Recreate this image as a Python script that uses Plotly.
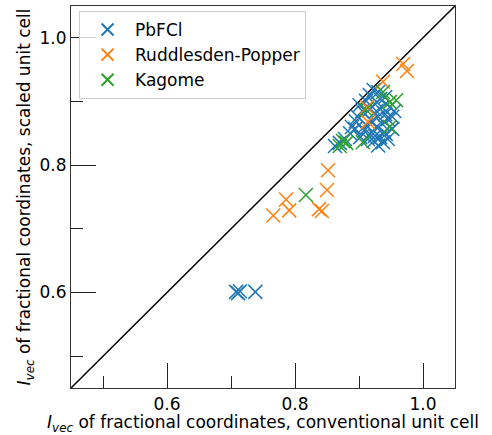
import plotly.graph_objects as go

# I_vec values: conventional unit cell (x) vs scaled unit cell (y)
pbfcl_x = [0.708, 0.711, 0.714, 0.738,
           0.8625, 0.870, 0.878, 0.886, 0.889, 0.895, 0.898, 0.905, 0.901, 0.911,
           0.917, 0.923, 0.930,
           0.917, 0.925, 0.933, 0.941, 0.948, 0.955, 0.941, 0.930, 0.920, 0.911,
           0.927, 0.936, 0.945, 0.952, 0.942, 0.933, 0.923, 0.930, 0.9375, 0.945,
           0.917, 0.908, 0.902, 0.894, 0.914, 0.927, 0.936, 0.952, 0.939, 0.925]
pbfcl_y = [0.601, 0.599, 0.602, 0.601,
           0.830, 0.835, 0.841, 0.850, 0.860, 0.869, 0.876, 0.885, 0.894, 0.901,
           0.910, 0.918, 0.915,
           0.888, 0.896, 0.904, 0.907, 0.891, 0.885, 0.880, 0.876, 0.869, 0.863,
           0.860, 0.865, 0.872, 0.857, 0.849, 0.844, 0.838, 0.831, 0.836, 0.841,
           0.849, 0.854, 0.844, 0.857, 0.841, 0.885, 0.891, 0.876, 0.852, 0.846]

rp_x = [0.969, 0.975, 0.9375, 0.9125, 0.914, 0.8516, 0.850, 0.786, 0.791, 0.766, 0.8375, 0.842]
rp_y = [0.959, 0.948, 0.931, 0.891, 0.868, 0.792, 0.761, 0.746, 0.729, 0.721, 0.731, 0.728]

kagome_x = [0.9375, 0.948, 0.958, 0.911, 0.948, 0.875, 0.870, 0.880, 0.906, 0.817]
kagome_y = [0.915, 0.899, 0.902, 0.887, 0.860, 0.838, 0.830, 0.835, 0.836, 0.753]

axis_range = [0.45, 1.05]
major_ticks = [0.6, 0.8, 1.0]
major_labels = ["0.6", "0.8", "1.0"]
minor_ticks = [0.5, 0.7, 0.9]

series = [
    ("PbFCl", pbfcl_x, pbfcl_y, "#1f77b4"),
    ("Ruddlesden-Popper", rp_x, rp_y, "#ff7f0e"),
    ("Kagome", kagome_x, kagome_y, "#2ca02c"),
]

fig = go.Figure()

# y = x reference line across the full axes
fig.add_trace(go.Scatter(x=axis_range, y=axis_range, mode="lines",
                         line=dict(color="black", width=1.5),
                         showlegend=False, hoverinfo="skip"))

for name, xs, ys, color in series:
    fig.add_trace(go.Scatter(
        x=xs, y=ys, mode="markers", name=name,
        marker=dict(symbol="x-thin", size=14, color=color,
                    line=dict(color=color, width=1.5)),
    ))

font = "DejaVu Sans, sans-serif"
axis_common = dict(
    range=axis_range,
    tickvals=major_ticks, ticktext=major_labels,
    ticks="inside", ticklen=25, tickwidth=1.3, tickcolor="#222",
    minor=dict(tickvals=minor_ticks, ticks="inside", ticklen=12,
               tickwidth=1.3, tickcolor="#222"),
    showline=True, linecolor="#333", linewidth=1.2, mirror=True,
    showgrid=False, zeroline=False,
    tickfont=dict(family=font, size=17, color="black"),
)

fig.update_layout(
    width=492, height=435,
    margin=dict(l=71, r=37, t=6, b=47),
    paper_bgcolor="white", plot_bgcolor="white",
    font=dict(family=font, size=17, color="black"),
    xaxis=dict(axis_common,
               title=dict(text="<i>I</i><sub><i>vec</i></sub> of fractional coordinates, conventional unit cell",
                          font=dict(family=font, size=17), standoff=2)),
    yaxis=dict(axis_common,
               title=dict(text="<i>I</i><sub><i>vec</i></sub> of fractional coordinates, scaled unit cell",
                          font=dict(family=font, size=17), standoff=4)),
    legend=dict(x=0.021, y=0.987, xanchor="left", yanchor="top",
                bgcolor="rgba(255,255,255,0.8)", bordercolor="#cccccc", borderwidth=1,
                font=dict(family=font, size=17), tracegroupgap=0,
                itemwidth=45, itemsizing="constant"),
    showlegend=True,
)

fig.write_html("out.html")
